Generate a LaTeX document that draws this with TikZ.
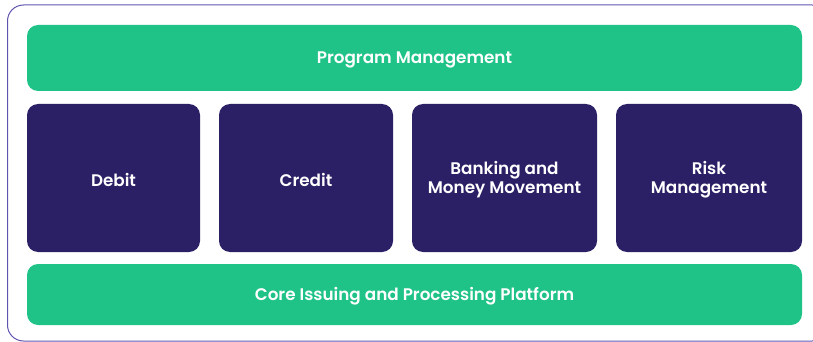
\documentclass[tikz,border=0pt]{standalone}
\usepackage{fontspec}
\setmainfont{Poppins}[BoldFont=Poppins SemiBold]
\definecolor{grn}{HTML}{1FC388}
\definecolor{dark}{HTML}{2B2066}
\definecolor{frame}{HTML}{5E54B0}
\begin{document}
\begin{tikzpicture}[x=1pt,y=-1pt,
  box/.style={rounded corners=11pt, inner sep=0pt},
  gbox/.style={box, fill=grn},
  dbox/.style={box, fill=dark},
  txt/.style={text=white, align=center, inner sep=0pt, yshift=-1.5pt,
    font=\fontsize{16.8}{19.5}\selectfont\bfseries}]
\useasboundingbox (0,0) rectangle (813,342);
\begin{scope}
\clip (0,0) rectangle (813,342);
\draw[frame, line width=1pt, rounded corners=16pt] (7.5,5) rectangle (828,341);
\end{scope}
\node[gbox, minimum width=775pt, minimum height=66pt] (pm) at (414.5,58) {};
\node[dbox, minimum width=173pt, minimum height=148pt] (debit) at (113.5,178) {};
\node[dbox, minimum width=174pt, minimum height=148pt] (credit) at (306,178) {};
\node[dbox, minimum width=185pt, minimum height=148pt] (bank) at (504.5,178) {};
\node[dbox, minimum width=186pt, minimum height=148pt] (risk) at (709,178) {};
\node[gbox, minimum width=775pt, minimum height=61pt] (core) at (414.5,294.5) {};
\node[txt] (pmt) at (pm.center) {Program Management};
\node[txt] (debitt) at (debit.center) {Debit};
\node[txt] (creditt) at (credit.center) {Credit};
\node[txt] (bankt) at (bank.center) {Banking and\\Money Movement};
\node[txt] (riskt) at (risk.center) {Risk\\Management};
\node[txt] (coret) at (core.center) {Core Issuing and Processing Platform};
\end{tikzpicture}
\end{document}
